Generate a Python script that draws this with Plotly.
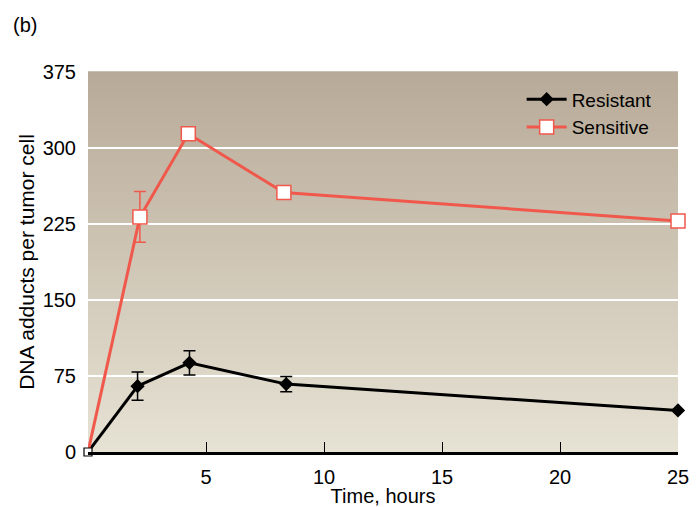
import plotly.graph_objects as go

# Time points (hours) and DNA adduct counts per tumor cell
res_time = [0, 2.1, 4.3, 8.4, 25]
res_adducts = [0, 65, 88, 67, 41]
res_err = [0, 14, 12, 7.5, 0]

sens_time = [0, 2.2, 4.25, 8.3, 25]
sens_adducts = [0, 232, 314, 256, 228]
sens_err = [0, 25, 0, 0, 0]

x_ticks = [5, 10, 15, 20, 25]
y_ticks = [0, 75, 150, 225, 300, 375]
y_grid = [75, 150, 225, 300]

BLACK = "#000000"
RED = "#f0584c"
FONT = "Liberation Sans, Arial, Helvetica, sans-serif"

fig = go.Figure()

# Segment from the origin to the first measurement (no marker at origin)
fig.add_trace(go.Scatter(
    x=res_time[:2], y=res_adducts[:2], mode="lines",
    line=dict(color=BLACK, width=3), showlegend=False, hoverinfo="skip",
    cliponaxis=False,
))
fig.add_trace(go.Scatter(
    x=sens_time[:2], y=sens_adducts[:2], mode="lines",
    line=dict(color=RED, width=3), showlegend=False, hoverinfo="skip",
    cliponaxis=False,
))

fig.add_trace(go.Scatter(
    x=res_time[1:], y=res_adducts[1:], mode="lines+markers", name="Resistant",
    line=dict(color=BLACK, width=3),
    marker=dict(symbol="diamond", size=11, color=BLACK),
    error_y=dict(type="data", array=res_err[1:], color=BLACK, thickness=1.5, width=6),
    cliponaxis=False,
))
fig.add_trace(go.Scatter(
    x=sens_time[1:], y=sens_adducts[1:], mode="lines+markers", name="Sensitive",
    line=dict(color=RED, width=3),
    marker=dict(symbol="square", size=14, color="white", line=dict(color=RED, width=1.5)),
    error_y=dict(type="data", array=sens_err[1:], color=RED, thickness=1.5, width=6),
    cliponaxis=False,
))

# Shared starting point at the origin
fig.add_trace(go.Scatter(
    x=sens_time[:1], y=sens_adducts[:1], mode="markers",
    marker=dict(symbol="square", size=8, color="white", line=dict(color=BLACK, width=1.2)),
    showlegend=False, hoverinfo="skip", cliponaxis=False,
))

# Vertical gradient background built from thin strips
top = (184, 170, 152)
bottom = (230, 226, 212)
n = 120
shapes = []
for i in range(n):
    t = i / (n - 1)
    c = tuple(round(bottom[k] + (top[k] - bottom[k]) * t) for k in range(3))
    shapes.append(dict(
        type="rect", xref="x domain", yref="y domain",
        x0=0, x1=1, y0=i / n, y1=(i + 1) / n + 0.002,
        fillcolor="rgb(%d,%d,%d)" % c, line=dict(width=0), layer="below",
    ))
for g in y_grid:
    shapes.append(dict(
        type="line", xref="x domain", yref="y", x0=0, x1=1, y0=g, y1=g,
        line=dict(color="white", width=2), layer="below",
    ))

fig.update_layout(
    width=697, height=507,
    margin=dict(l=88, r=19, t=72, b=55),
    paper_bgcolor="white", plot_bgcolor="rgba(0,0,0,0)",
    font=dict(family=FONT, size=19, color=BLACK),
    shapes=shapes,
    showlegend=True,
    legend=dict(
        x=0.735, y=0.978, xanchor="left", yanchor="top",
        bgcolor="rgba(0,0,0,0)", font=dict(size=19), tracegroupgap=0,
        itemwidth=40,
    ),
    annotations=[dict(
        text="(b)", xref="paper", yref="paper", x=-0.131, y=1.125,
        xanchor="left", yanchor="middle", showarrow=False, font=dict(size=20),
    )],
)

fig.update_xaxes(
    range=[0, 25], tickvals=x_ticks, ticks="inside", ticklen=10, tickwidth=1,
    tickcolor=BLACK, showgrid=False, zeroline=False, automargin=False,
    showline=True, linecolor=BLACK, linewidth=3,
    tickfont=dict(size=20), ticklabelstandoff=5,
    title=dict(text="Time, hours", font=dict(size=20), standoff=8),
)
fig.update_yaxes(
    range=[0, 375], tickvals=y_ticks, ticks="outside", ticklen=7,
    tickcolor="rgba(0,0,0,0)", showgrid=False, zeroline=False, showline=False,
    automargin=False, tickfont=dict(size=20),
    title=dict(text="DNA adducts per tumor cell", font=dict(size=21), standoff=2),
)

fig.write_html("out.html")
